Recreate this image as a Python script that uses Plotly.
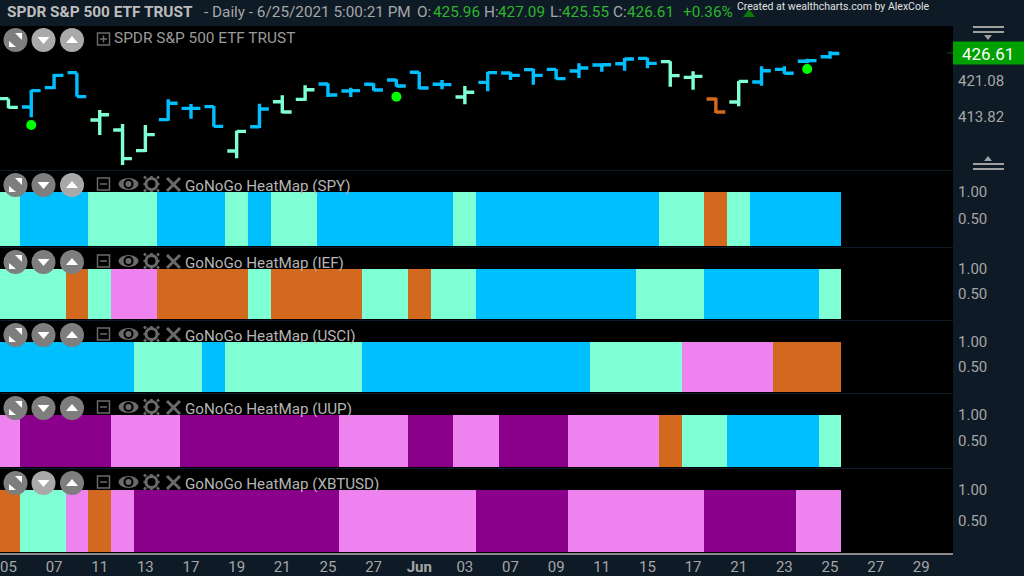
import plotly.graph_objects as go

# ---- data ----
TICK_POS = [0, 2, 4, 6, 8, 10, 12, 14, 16, 18, 20, 22, 24, 26, 28, 30, 32, 34, 36, 38, 40]
TICK_TEXT = ["05", "07", "11", "13", "17", "19", "21", "25", "27", "<b>Jun</b>", "03", "07", "09", "11", "15", "17", "21", "23", "25", "27", "29"]

OPEN = [417.52, 415.84, 419.74, 422.76, 413.22, 411.20, 407.04, 413.29, 415.57, 415.91, 406.97, 411.87, 416.91, 417.38, 420.48, 419.06, 420.41, 421.28, 422.83, 420.41, 417.85, 420.81, 422.69, 423.37, 423.43, 423.10, 424.31, 424.57, 425.65, 424.98, 421.82, 417.45, 416.85, 420.88, 423.43, 425.05, 425.96]
HIGH = [417.52, 419.27, 422.49, 422.76, 415.23, 412.41, 412.21, 417.38, 416.44, 416.04, 411.07, 416.51, 418.19, 420.21, 420.61, 419.74, 420.61, 421.42, 422.89, 421.28, 420.07, 422.89, 422.83, 423.57, 423.50, 424.64, 424.51, 425.72, 425.78, 425.05, 423.03, 417.72, 421.08, 424.04, 424.04, 425.58, 427.09]
LOW = [415.57, 413.76, 419.40, 417.92, 410.19, 404.15, 406.77, 413.08, 413.49, 411.87, 405.49, 411.61, 414.56, 417.12, 417.85, 417.85, 419.13, 419.94, 419.40, 419.40, 416.38, 419.00, 421.28, 420.34, 421.42, 421.69, 422.96, 423.16, 423.63, 419.94, 419.33, 414.63, 415.97, 420.14, 422.49, 424.64, 425.55]
CLOSE = [415.77, 419.13, 422.22, 417.92, 414.29, 405.42, 410.26, 416.58, 415.57, 411.94, 410.93, 415.44, 414.83, 419.33, 418.26, 419.13, 419.27, 420.07, 419.67, 420.34, 418.80, 422.76, 422.22, 422.22, 421.55, 423.70, 424.37, 425.52, 424.64, 422.16, 422.02, 414.83, 421.01, 423.16, 422.63, 425.18, 426.61]
DOT_X = [1, 17, 35]
DOT_Y = [412.21, 417.92, 423.50]
PRICE_TICKS = [413.82, 421.08]
LAST = 426.61

SPY = list("GBBBGGGBBBGBGGBBBBBBGBBBBBBBBGGOGBBBB")
IEF = list("GGGOGPPOOOOGOOOOGGOGGBBBBBBBGGGBBBBBG")
USCI = list("BBBBBBGGGBGGGGGGBBBBBBBBBBGGGGPPPPOOO")
UUP = list("PDDDDPPPDDDDDDDPPPDDPPDDDPPPPOGGBBBBG")
XBT = list("OGGPOPDDDDDDDDDPPPPPPDDDDPPPPPPDDDDPP")
HEAT = [("SPY", SPY), ("IEF", IEF), ("USCI", USCI), ("UUP", UUP), ("XBTUSD", XBT)]

# ---- style ----
W, H = 1024, 576
COL = {"G": "#7FFFD4", "B": "#00BFFF", "O": "#D2691E", "P": "#EE82EE", "D": "#8B008B"}
NAVY = "#0E1A26"
GREY = "#A6A6A6"
GREEN = "#2DB52D"
FONT = "Roboto, sans-serif"
PLOT_R = 953

def fx(px): return px / W
def fy(py): return 1 - py / H

# panel pixel extents: top, bottom, px of value 1, px of value 0
PANELS = [(171, 247, 192, 246), (248, 320, 269, 319), (321, 393, 342, 392), (394, 468, 415, 467), (469, 553, 490, 552)]
LABEL_Y = [185, 262, 335, 408, 483]

fig = go.Figure()

n = len(CLOSE)
xs = list(range(n))
for code in "GBO":
    idx = [i for i in xs if SPY[i] == code]
    fig.add_trace(go.Ohlc(
        x=idx, open=[OPEN[i] for i in idx], high=[HIGH[i] for i in idx],
        low=[LOW[i] for i in idx], close=[CLOSE[i] for i in idx],
        increasing=dict(line=dict(color=COL[code], width=3.4)),
        decreasing=dict(line=dict(color=COL[code], width=3.4)),
        tickwidth=0.41, xaxis="x", yaxis="y", showlegend=False, name="SPY"))
fig.add_trace(go.Scatter(x=DOT_X, y=DOT_Y, mode="markers", xaxis="x", yaxis="y",
                         marker=dict(color="#00FF00", size=10), showlegend=False))

for k, (name, states) in enumerate(HEAT):
    fig.add_trace(go.Bar(x=xs, y=[1] * n, width=1, marker=dict(color=[COL[s] for s in states], line=dict(width=0)),
                         xaxis="x", yaxis=f"y{k + 2}", showlegend=False, name=name))

layout_axes = {}
TICKFONT = dict(family=FONT, size=15, color=GREY)
layout_axes["yaxis"] = dict(
    domain=[fy(170), fy(26)], anchor="x", side="right",
    range=[421.08 + (81 - 170) / 4.96, 421.08 + (81 - 26) / 4.96],
    tickmode="array", tickvals=PRICE_TICKS, ticktext=[f"{v:.2f}" for v in PRICE_TICKS],
    showgrid=False, zeroline=False, ticks="outside", ticklen=1, tickcolor="rgba(0,0,0,0)", tickfont=TICKFONT)
for k, (top, bot, p1, p0) in enumerate(PANELS):
    u = p0 - p1
    layout_axes[f"yaxis{k + 2}"] = dict(
        domain=[fy(bot), fy(top)], anchor="x", side="right",
        range=[-(bot - p0) / u, 1 + (p1 - top) / u],
        tickmode="array", tickvals=[0.5, 1.0], ticktext=["0.50", "1.00"],
        showgrid=False, zeroline=False, ticks="outside", ticklen=1, tickcolor="rgba(0,0,0,0)", tickfont=TICKFONT)

shapes = []
ann = []

def text(px, py, s, size=15, color=GREY, anchor="left"):
    ann.append(dict(x=fx(px), y=fy(py), xref="paper", yref="paper", text=s, showarrow=False,
                    xanchor=anchor, yanchor="middle", font=dict(family=FONT, size=size, color=color),
                    borderpad=0, borderwidth=0))

def poly(points, color):
    d = "M" + " L".join(f"{fx(a):.5f},{fy(b):.5f}" for a, b in points) + " Z"
    shapes.append(dict(type="path", path=d, xref="paper", yref="paper", fillcolor=color, line=dict(width=0)))

def rect(x0, y0, x1, y1, color, line=None, lw=0):
    shapes.append(dict(type="rect", xref="paper", yref="paper", x0=fx(x0), x1=fx(x1), y0=fy(y1), y1=fy(y0),
                       fillcolor=color, line=dict(width=lw, color=line or color)))

def circle(cx, cy, rx, color, ry=None, line=None, lw=0):
    ry = ry or rx
    shapes.append(dict(type="circle", xref="paper", yref="paper", x0=fx(cx - rx), x1=fx(cx + rx), y0=fy(cy + ry), y1=fy(cy - ry),
                       fillcolor=color, line=dict(width=lw, color=line or color)))

def seg(x0, y0, x1, y1, color, lw):
    shapes.append(dict(type="line", xref="paper", yref="paper", x0=fx(x0), x1=fx(x1), y0=fy(y0), y1=fy(y1),
                       line=dict(color=color, width=lw)))

def buttons(cy, shades):
    circle(15.5, cy, 12, shades[0])
    poly([(9, cy + 1), (9, cy + 7), (16, cy + 7)], "#FFFFFF")
    poly([(22, cy - 7), (15, cy - 7), (22, cy)], "#FFFFFF")
    circle(43.5, cy, 12, shades[1])
    poly([(37.5, cy - 3), (49.5, cy - 3), (43.5, cy + 4)], "#FFFFFF")
    circle(72, cy, 12, shades[2])
    poly([(66, cy + 3), (78, cy + 3), (72, cy - 4)], "#FFFFFF")

DIM, LIT = "#7E7E7E", "#A9A9A9"
ICON = "#6A6A6A"

# header and right-hand furniture
rect(0, 0, W, 25.5, NAVY)
text(7, 12.5, "<b>SPDR S&P 500 ETF TRUST</b>", 15.4, "#BDBDBD")
text(204, 12.5, "- Daily - 6/25/2021 5:00:21 PM", 15.3)
for px, s, c in [(417, "O:", GREY), (433, "425.96", GREEN), (484, "H:", GREY), (498, "427.09", GREEN),
                 (550, "L:", GREY), (562, "425.55", GREEN), (613, "C:", GREY), (627, "426.61", GREEN),
                 (683, "+0.36%", GREEN)]:
    text(px, 12.5, s, 15.3, c)
poly([(743, 17), (755, 17), (749, 9)], "#0B7A0B")
text(737, 6.5, "Created at wealthcharts.com by AlexCole", 10.5, "#E2E2E2")

for y0 in (26, 31):
    rect(973, y0, 1004, y0 + 2, "#A0A0A0")
poly([(984, 35), (992, 35), (988, 40)], "#A0A0A0")
poly([(984, 161), (992, 161), (988, 156)], "#A0A0A0")
for y0 in (163, 168):
    rect(973, y0, 1004, y0 + 2, "#A0A0A0")
seg(947, 53, PLOT_R, 53, "#0B5A0B", 1)
rect(PLOT_R, 41.5, W, 64.5, "#00A000")
ann.append(dict(x=fx(988), y=LAST, xref="paper", yref="y", text=f"{LAST:.2f}", showarrow=False,
                xanchor="center", yanchor="middle", font=dict(family=FONT, size=17, color="#FFFFFF")))

# main panel controls
buttons(40, (DIM, LIT, LIT))
rect(97.5, 33, 109.5, 45, "rgba(0,0,0,0)", ICON, 1.5)
seg(100, 39, 107, 39, ICON, 1.5)
seg(103.5, 35.5, 103.5, 42.5, ICON, 1.5)
text(114, 38, "SPDR S&P 500 ETF TRUST", 15.4, "#9A9A9A")

# heat-map panel controls
BTN = [(DIM, DIM, LIT), (DIM, DIM, DIM), (DIM, DIM, DIM), (DIM, DIM, DIM), (DIM, LIT, DIM)]
for k, (name, _) in enumerate(HEAT):
    cy = LABEL_Y[k]
    buttons(cy, BTN[k])
    rect(97.5, cy - 7, 109.5, cy + 5, "rgba(0,0,0,0)", ICON, 1.5)
    seg(100, cy - 1, 107, cy - 1, ICON, 1.5)
    # eye
    circle(128.5, cy - 1, 10, ICON, ry=6)
    circle(128.5, cy - 1, 5, "#000000", ry=5)
    circle(128.5, cy - 1, 3, ICON)
    # gear
    circle(151.5, cy - 1, 5.5, "#000000", line=ICON, lw=3)
    for a, b, c, d in [(151.5, cy - 9, 151.5, cy + 7), (143.5, cy - 1, 159.5, cy - 1)]:
        seg(a, b, a, b + 2.5, ICON, 2.5) if a == c else seg(a, b, a + 2.5, b, ICON, 2.5)
        seg(c, d, c, d - 2.5, ICON, 2.5) if a == c else seg(c, d, c - 2.5, d, ICON, 2.5)
    for dx, dy in [(-1, -1), (1, -1), (-1, 1), (1, 1)]:
        seg(151.5 + 5.5 * dx, cy - 1 + 5.5 * dy, 151.5 + 7.5 * dx, cy - 1 + 7.5 * dy, ICON, 2.5)
    # close
    seg(167, cy - 7, 180, cy + 6, ICON, 3)
    seg(167, cy + 6, 180, cy - 7, ICON, 3)
    text(185, cy + 1, f"GoNoGo HeatMap ({name})", 15.2, "#B5B5B5")

fig.update_layout(
    width=W, height=H, margin=dict(l=0, r=0, t=0, b=0, pad=0, autoexpand=False), autosize=False,
    paper_bgcolor=NAVY, plot_bgcolor="#000000", barmode="overlay", bargap=0, showlegend=False,
    font=dict(family=FONT, color=GREY),
    shapes=shapes, annotations=ann,
    xaxis=dict(domain=[0, fx(PLOT_R)], anchor="y6", range=[-0.37, 41.39],
               rangeslider=dict(visible=False), tickmode="array", tickvals=TICK_POS, ticktext=TICK_TEXT,
               showgrid=False, zeroline=False, showline=True, linecolor="#8A8A8A", linewidth=2,
               ticks="outside", ticklen=3, tickcolor="rgba(0,0,0,0)", tickfont=TICKFONT,
               ticklabeloverflow="allow", ticklabelstandoff=-4),
    **layout_axes)

fig.write_html("out.html", config={"displayModeBar": False},
               post_script="document.body.style.margin='0';document.body.style.background='%s';" % NAVY)
